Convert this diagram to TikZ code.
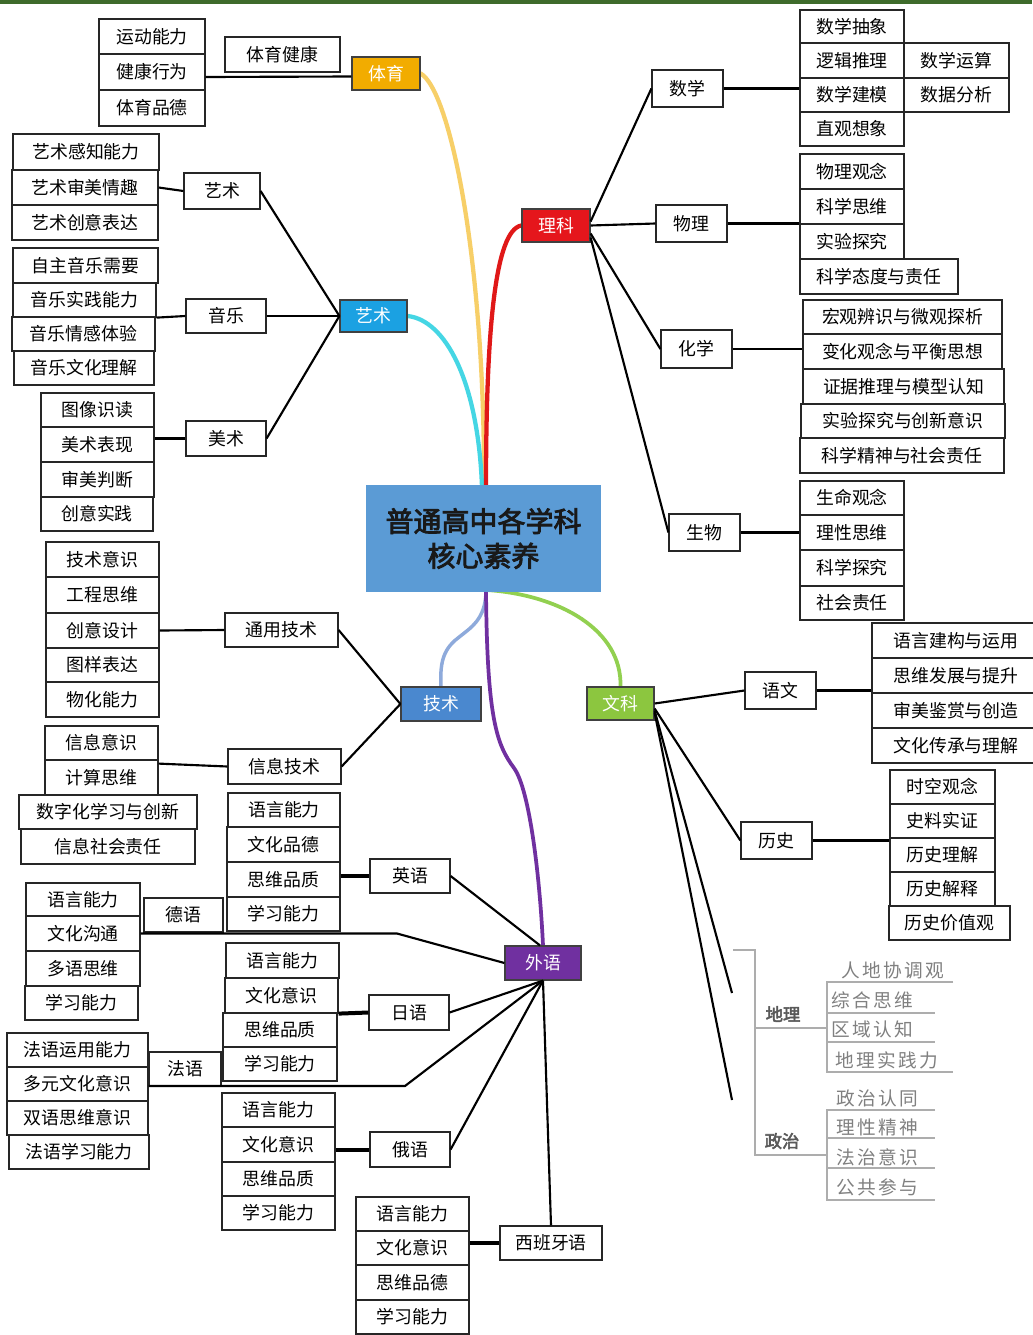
\documentclass[tikz,border=0pt]{standalone}
\usepackage{fontspec}
\newfontfamily\cjk{Noto Sans CJK SC}
\newfontfamily\cjkb[FakeBold=3]{Noto Sans CJK SC}
\usetikzlibrary{calc}
\definecolor{cTY}{HTML}{F2AC00}
\definecolor{cYS}{HTML}{1BA1E2}
\definecolor{cLK}{HTML}{E5161C}
\definecolor{cJS}{HTML}{4A88CF}
\definecolor{cWK}{HTML}{8CC63F}
\definecolor{cWY}{HTML}{7030A0}
\definecolor{cC}{HTML}{5B9BD5}
\definecolor{cTop}{HTML}{3E6B2B}
\definecolor{kY}{HTML}{F7CF68}
\definecolor{kC}{HTML}{45D6E4}
\definecolor{kR}{HTML}{E01818}
\definecolor{kB}{HTML}{8EAADB}
\definecolor{kG}{HTML}{92D050}
\definecolor{kP}{HTML}{7030A0}
\pgfdeclarelayer{bg}
\pgfsetlayers{bg,main}
\tikzset{
 leaf/.style={draw=black!85, line width=0.9pt, fill=white, inner sep=0pt, font=\cjk\fontsize{13.4}{13.4}\selectfont, text=black},
 hub/.style={draw=black!75, text=white},
 conn/.style={line width=1.6pt, black},
 tconn/.style={line width=3pt, black},
 curve/.style={line width=3.2pt, line cap=round},
 gline/.style={draw=black!32, line width=1pt},
 gtext/.style={text=black!50, font=\cjk\fontsize{14}{14}\selectfont, inner sep=0pt},
 glabel/.style={text=black!65, font=\cjkb\fontsize{13}{13}\selectfont, inner sep=0pt},
}
\newcommand\bx[7][]{\node[leaf,#1,minimum width={(#5-#3)*0.75pt},minimum height={(#6-#4)*0.75pt}] (#2) at ({(#3+#5)/2},{(#4+#6)/2}) {#7};}
\newcommand\gsp{\hspace{1.8pt}}
\begin{document}
\begin{tikzpicture}[x=0.75pt,y=-0.75pt]
\useasboundingbox (0,0) rectangle (1032,1335);

% ---------- centre
\node[fill=cC, draw=none, minimum width={235*0.75pt}, minimum height={107*0.75pt}, align=center, font=\cjkb\fontsize{21}{26}\selectfont, text=black!90] (c) at (483.5,538.5) {普通高中各学科\\核心素养};

% ---------- hubs
\bx[hub,fill=cTY]{ty}{352}{57}{420}{90}{体育}
\bx[hub,fill=cYS]{ys}{340}{300}{407}{332}{艺术}
\bx[hub,fill=cLK]{lk}{522}{209}{590}{242}{理科}
\bx[hub,fill=cJS]{js}{401}{687}{481}{721}{技术}
\bx[hub,fill=cWK]{wk}{587}{687}{654}{720}{文科}
\bx[hub,fill=cWY]{wy}{505}{946}{581}{980}{外语}

% ---------- background and coloured curves
\begin{pgfonlayer}{bg}
\fill[white] (0,0) rectangle (1032,1335);
\fill[cTop] (0,0) rectangle (1032,3.5);
\draw[curve,kY] (ty.east) .. controls (450,90) and (485,260) .. (484,487);
\draw[curve,kC] (ys.east) .. controls (445,320) and (478,380) .. (482,487);
\draw[curve,kR] (486,487) .. controls (486,330) and (495,230) .. (lk.west);
\draw[curve,kB,line width=2.6pt] (486,590) .. controls (486,620) and (470,628) .. (458,638) .. controls (442,650) and (440,665) .. (js.north);
\draw[curve,kG,line width=2.8pt] (487,590) .. controls (560,595) and (622,630) .. (wk.north);
\draw[curve,kP,line width=2.8pt] (486,590) .. controls (487,720) and (497,745) .. (514,768) .. controls (530,790) and (540,880) .. (wy.north);
\end{pgfonlayer}

% ---------- 体育
\bx{ty1}{99}{19}{205}{54}{运动能力}
\bx{ty2}{99}{54}{205}{90}{健康行为}
\bx{ty3}{99}{90}{205}{126}{体育品德}
\bx{tyjk}{225}{37}{340}{72}{体育健康}
\draw[conn] ($(ty2.east)+(0,5)$) -- ($(ty.west)+(0,3)$);

% ---------- 艺术
\bx{ys1}{13}{134}{159}{170}{艺术感知能力}
\bx{ys2}{12}{170}{158}{205}{艺术审美情趣}
\bx{ys3}{12}{205}{158}{240}{艺术创意表达}
\bx{ysb}{184}{173}{260}{209}{艺术}
\bx{yy1}{13}{248}{158}{283}{自主音乐需要}
\bx{yy2}{13}{283}{156}{317}{音乐实践能力}
\bx{yy3}{12}{317}{155}{351}{音乐情感体验}
\bx{yy4}{14}{351}{154}{385}{音乐文化理解}
\bx{yyb}{186}{299}{266}{333}{音乐}
\bx{ms1}{41}{393}{154}{427}{图像识读}
\bx{ms2}{41}{427}{154}{462}{美术表现}
\bx{ms3}{41}{462}{154}{497}{审美判断}
\bx{ms4}{41}{497}{153}{531}{创意实践}
\bx{msb}{186}{421}{266}{456}{美术}
\draw[conn] (ys2.east) -- (ysb.west);
\draw[conn] (ysb.east) -- (ys.west);
\draw[conn] (yy2.south east) -- (yyb.west);
\draw[conn] (yyb.east) -- (ys.west);
\draw[conn] (ms2.east |- msb.west) -- (msb.west);
\draw[conn] (msb.east) -- (ys.west);

% ---------- 技术
\bx{js1}{46}{542}{159}{577}{技术意识}
\bx{js2}{46}{577}{159}{613}{工程思维}
\bx{js3}{46}{613}{159}{648}{创意设计}
\bx{js4}{46}{648}{159}{682}{图样表达}
\bx{js5}{46}{682}{159}{717}{物化能力}
\bx{tyjs}{225}{613}{338}{647}{通用技术}
\bx{xx1}{45}{726}{158}{760}{信息意识}
\bx{xx2}{45}{760}{158}{795}{计算思维}
\bx{xx3}{19}{795}{197}{829}{数字化学习与创新}
\bx{xx4}{21}{829}{195}{864}{信息社会责任}
\bx{xxjs}{228}{749}{341}{784}{信息技术}
\draw[conn] (js3.east) -- (tyjs.west);
\draw[conn] (tyjs.east) -- (js.west);
\draw[conn] ($(xx1.south east)+(0,3)$) -- (xxjs.west);
\draw[conn] (xxjs.east) -- (js.west);

% ---------- 理科
\bx{sx}{652}{70}{723}{107}{数学}
\bx{sx1}{800}{10}{904}{43}{数学抽象}
\bx{sx2}{800}{43}{904}{78}{逻辑推理}
\bx{sx3}{800}{78}{904}{112}{数学建模}
\bx{sx4}{800}{112}{904}{146}{直观想象}
\bx{sx5}{904}{43}{1009}{78}{数学运算}
\bx{sx6}{904}{78}{1009}{112}{数据分析}
\bx{wl}{656}{205}{727}{242}{物理}
\bx{wl1}{800}{154}{904}{189}{物理观念}
\bx{wl2}{800}{189}{904}{224}{科学思维}
\bx{wl3}{800}{224}{904}{259}{实验探究}
\bx{wl4}{800}{259}{958}{294}{科学态度与责任}
\bx{hx}{661}{330}{732}{368}{化学}
\bx{hx1}{803}{300}{1002}{334}{宏观辨识与微观探析}
\bx{hx2}{803}{334}{1002}{369}{变化观念与平衡思想}
\bx{hx3}{803}{369}{1004}{404}{证据推理与模型认知}
\bx{hx4}{801}{404}{1005}{438}{实验探究与创新意识}
\bx{hx5}{800}{438}{1004}{473}{科学精神与社会责任}
\bx{sw}{669}{514}{740}{551}{生物}
\bx{sw1}{800}{481}{904}{515}{生命观念}
\bx{sw2}{800}{515}{904}{550}{理性思维}
\bx{sw3}{800}{550}{904}{586}{科学探究}
\bx{sw4}{800}{586}{904}{620}{社会责任}
\draw[conn] (sx.east) -- (sx.east -| sx3.west);
\draw[conn] (wl.east) -- (wl.east -| wl2.west);
\draw[conn] (hx.east) -- (hx.east -| hx2.west);
\draw[conn] (sw.east) -- (sw.east -| sw2.west);
\draw[conn] ($(lk.east)+(0,-4)$) -- (sx.west);
\draw[conn] (lk.east) -- (wl.west);
\draw[conn] ($(lk.east)+(0,8)$) -- (hx.west);
\draw[conn] ($(lk.east)+(0,12)$) -- (sw.west);

% ---------- 文科
\bx{yw}{745}{672}{816}{709}{语文}
\bx{yw1}{872}{623}{1040}{658}{语言建构与运用}
\bx{yw2}{872}{658}{1040}{693}{思维发展与提升}
\bx{yw3}{872}{693}{1040}{728}{审美鉴赏与创造}
\bx{yw4}{872}{728}{1040}{763}{文化传承与理解}
\bx{ls}{741}{822}{812}{859}{历史}
\bx{ls1}{890}{770}{995}{804}{时空观念}
\bx{ls2}{890}{804}{995}{838}{史料实证}
\bx{ls3}{890}{838}{995}{872}{历史理解}
\bx{ls4}{890}{872}{995}{906}{历史解释}
\bx{ls5}{889}{906}{1010}{940}{历史价值观}
\draw[conn] (yw.east) -- (yw.east -| yw2.west);
\draw[conn] (ls.east) -- (ls.east -| ls3.west);
\draw[conn] (wk.east) -- (yw.west);
\draw[conn] ($(wk.east)+(0,5)$) -- (ls.west);
\coordinate (dlend) at (732,993);
\coordinate (zzend) at (732,1100);
\draw[conn] ($(wk.east)+(0,7)$) -- (dlend);
\draw[conn] ($(wk.east)+(0,9)$) -- (zzend);

% ---------- 地理 / 政治 (faded part)
\draw[gline] (733,950) -- (755,950) -- (755,1155) -- (827,1155);
\draw[gline] (755,1028) -- (827,1028);
\draw[gline] (953,982) -- (827,982) -- (827,1072) -- (953,1072);
\draw[gline] (827,1013) -- (935,1013);
\draw[gline] (827,1042) -- (935,1042);
\draw[gline] (935,1110) -- (827,1110) -- (827,1200) -- (935,1200);
\draw[gline] (827,1138) -- (935,1138);
\draw[gline] (827,1168) -- (935,1168);
\node[glabel] (dl) at (783,1014) {地理};
\node[glabel] (zz) at (782,1141) {政治};
\node[gtext] (dl1) at (893,970) {人\gsp 地\gsp 协\gsp 调\gsp 观};
\node[gtext] (dl2) at (872,1000) {综\gsp 合\gsp 思\gsp 维};
\node[gtext] (dl3) at (872,1029) {区\gsp 域\gsp 认\gsp 知};
\node[gtext] (dl4) at (887,1060) {地\gsp 理\gsp 实\gsp 践\gsp 力};
\node[gtext] (zz1) at (877,1098) {政\gsp 治\gsp 认\gsp 同};
\node[gtext] (zz2) at (877,1127) {理\gsp 性\gsp 精\gsp 神};
\node[gtext] (zz3) at (877,1157) {法\gsp 治\gsp 意\gsp 识};
\node[gtext] (zz4) at (877,1187) {公\gsp 共\gsp 参\gsp 与};

% ---------- 外语
\bx{en1}{228}{793}{340}{827}{语言能力}
\bx{en2}{227}{827}{340}{862}{文化品德}
\bx{en3}{227}{862}{340}{897}{思维品质}
\bx{en4}{227}{897}{340}{931}{学习能力}
\bx{en}{370}{859}{450}{893}{英语}
\bx{de1}{26}{883}{140}{916}{语言能力}
\bx{de2}{26}{916}{140}{951}{文化沟通}
\bx{de3}{26}{951}{140}{986}{多语思维}
\bx{de4}{25}{986}{138}{1020}{学习能力}
\bx{de}{144}{898}{223}{932}{德语}
\bx{jp1}{226}{943}{339}{978}{语言能力}
\bx{jp2}{225}{978}{338}{1013}{文化意识}
\bx{jp3}{223}{1013}{337}{1047}{思维品质}
\bx{jp4}{223}{1047}{337}{1081}{学习能力}
\bx{jp}{369}{995}{449}{1030}{日语}
\bx{fr1}{7}{1033}{148}{1067}{法语运用能力}
\bx{fr2}{7}{1067}{148}{1101}{多元文化意识}
\bx{fr3}{7}{1101}{148}{1135}{双语思维意识}
\bx{fr4}{9}{1135}{149}{1169}{法语学习能力}
\bx{fr}{149}{1052}{221}{1086}{法语}
\bx{ru1}{222}{1093}{335}{1127}{语言能力}
\bx{ru2}{222}{1127}{335}{1162}{文化意识}
\bx{ru3}{222}{1162}{335}{1196}{思维品质}
\bx{ru4}{222}{1196}{335}{1230}{学习能力}
\bx{ru}{370}{1132}{450}{1167}{俄语}
\bx{es1}{356}{1197}{469}{1231}{语言能力}
\bx{es2}{356}{1231}{469}{1265}{文化意识}
\bx{es3}{356}{1265}{469}{1300}{思维品德}
\bx{es4}{356}{1300}{469}{1334}{学习能力}
\bx{es}{500}{1226}{602}{1260}{西班牙语}
\coordinate (debend) at (397,933.5);
\coordinate (frbend) at (405,1086);
\draw[tconn] (en3.east |- en.west) -- (en.west);
\draw[conn] (en.east) -- ($(wy.north)+(-3,0)$);
\draw[conn] (de2.east) -- (debend) -- (wy.west);
\draw[tconn] (jp2.south east) -- (jp.west);
\draw[conn] (jp.east) -- (wy.south);
\draw[conn] (fr2.east |- frbend) -- (frbend) -- (wy.south);
\draw[tconn] (ru.west -| ru2.east) -- (ru.west);
\draw[conn] (ru.east) -- (wy.south);
\draw[tconn] (es.west -| es2.east) -- (es.west);
\draw[conn] (wy.south) -- (es.north);
\end{tikzpicture}
\end{document}
